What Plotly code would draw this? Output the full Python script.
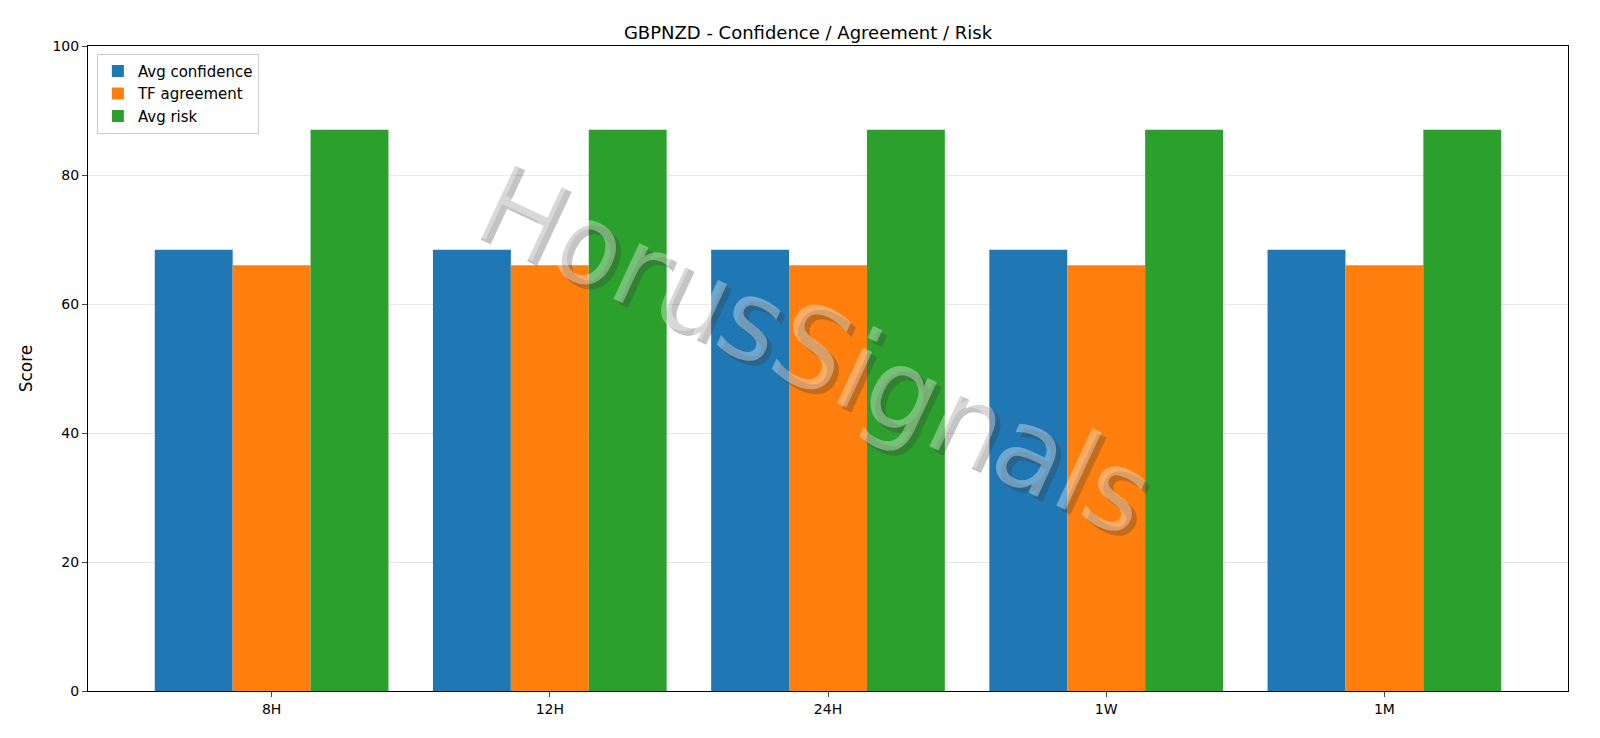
import plotly.graph_objects as go

categories = ["8H", "12H", "24H", "1W", "1M"]
avg_confidence = [68.4, 68.4, 68.4, 68.4, 68.4]
tf_agreement = [66.0, 66.0, 66.0, 66.0, 66.0]
avg_risk = [87.0, 87.0, 87.0, 87.0, 87.0]

fig = go.Figure()
for name, vals, col in [("Avg confidence", avg_confidence, "#1f77b4"),
                        ("TF agreement", tf_agreement, "#ff7f0e"),
                        ("Avg risk", avg_risk, "#2ca02c")]:
    fig.add_bar(x=categories, y=vals, name=name, marker_color=col, marker_line_width=0)

fig.add_annotation(text="HorusSignals", x=0.49, y=0.53, xref="paper", yref="paper",
                   showarrow=False, textangle=25, xshift=5, yshift=-5,
                   font=dict(size=112, family="DejaVu Sans", color="rgba(60,60,60,0.3)"))
fig.add_annotation(text="HorusSignals", x=0.49, y=0.53, xref="paper", yref="paper",
                   showarrow=False, textangle=25,
                   font=dict(size=112, family="DejaVu Sans", color="rgba(255,255,255,0.35)"))

fig.update_layout(
    width=1600, height=738, barmode="group", bargap=0.16, bargroupgap=0,
    plot_bgcolor="white", paper_bgcolor="white",
    font=dict(family="DejaVu Sans", size=14, color="black"),
    title=dict(text="GBPNZD - Confidence / Agreement / Risk", x=0.5, y=0.975, xanchor="center", font=dict(size=18)),
    margin=dict(l=80, r=40, t=38, b=55),
    xaxis=dict(range=[-0.66, 4.66], showline=True, linecolor="black", mirror=True, ticks="outside", ticklen=5),
    yaxis=dict(title=dict(text="Score"), range=[0, 100], dtick=20, showline=True, linecolor="black", mirror=True,
               ticks="outside", ticklen=5, showgrid=True, gridcolor="#e6e6e6", zeroline=False),
    legend=dict(x=0.006, y=0.988, xanchor="left", yanchor="top", bordercolor="#cccccc", borderwidth=1,
                bgcolor="rgba(255,255,255,0.8)", font=dict(size=15)),
)
fig.write_html("out.html")
